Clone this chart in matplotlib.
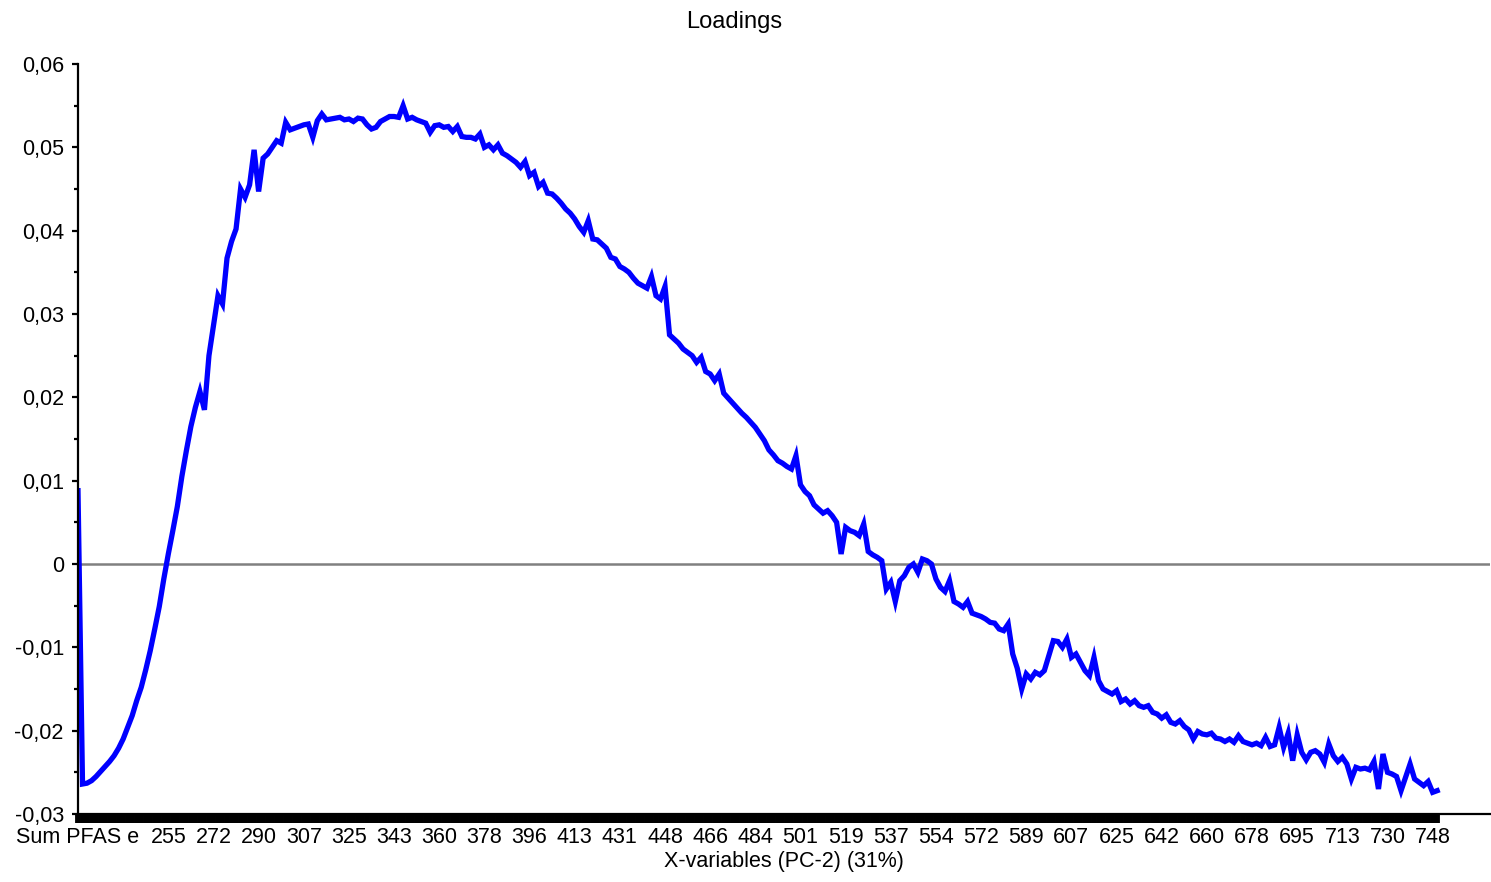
import matplotlib
matplotlib.use('Agg')
import matplotlib.pyplot as plt

plt.rcParams['font.family'] = ['Liberation Sans', 'DejaVu Sans']

# PC-2 loadings: first variable is the PFAS sum, the rest are the spectrum
loadings = [
    0.0088, -0.0264, -0.0263, -0.0260, -0.0255, -0.0249, -0.0243, -0.0237, -0.0230, -0.0221,
    -0.0210, -0.0196, -0.0182, -0.0164, -0.0148, -0.0127, -0.0104, -0.0078, -0.0051, -0.0018,
    0.0012, 0.0040, 0.0069, 0.0105, 0.0136, 0.0165, 0.0188, 0.0207, 0.0185, 0.0250,
    0.0286, 0.0322, 0.0312, 0.0367, 0.0387, 0.0402, 0.0450, 0.0440, 0.0455, 0.0497,
    0.0447, 0.0487, 0.0492, 0.0500, 0.0508, 0.0505, 0.0530, 0.0521, 0.0523, 0.0525,
    0.0527, 0.0528, 0.0512, 0.0532, 0.0540, 0.0533, 0.0534, 0.0535, 0.0536, 0.0533,
    0.0534, 0.0531, 0.0535, 0.0534, 0.0527, 0.0522, 0.0524, 0.0531, 0.0534, 0.0537,
    0.0537, 0.0536, 0.0550, 0.0534, 0.0536, 0.0533, 0.0531, 0.0529, 0.0518, 0.0526,
    0.0527, 0.0524, 0.0525, 0.0519, 0.0525, 0.0513, 0.0512, 0.0512, 0.0510, 0.0516,
    0.0500, 0.0503, 0.0497, 0.0503, 0.0493, 0.0490, 0.0486, 0.0482, 0.0476, 0.0483,
    0.0466, 0.0470, 0.0453, 0.0458, 0.0445, 0.0444, 0.0439, 0.0433, 0.0426, 0.0421,
    0.0414, 0.0405, 0.0398, 0.0412, 0.0390, 0.0389, 0.0384, 0.0379, 0.0368, 0.0366,
    0.0357, 0.0354, 0.0350, 0.0343, 0.0337, 0.0334, 0.0331, 0.0345, 0.0322, 0.0318,
    0.0333, 0.0275, 0.0270, 0.0265, 0.0258, 0.0254, 0.0250, 0.0242, 0.0248, 0.0231,
    0.0228, 0.0220, 0.0228, 0.0205, 0.0199, 0.0193, 0.0187, 0.0181, 0.0176, 0.0170,
    0.0164, 0.0156, 0.0148, 0.0137, 0.0131, 0.0124, 0.0121, 0.0117, 0.0114, 0.0130,
    0.0095, 0.0087, 0.0082, 0.0071, 0.0066, 0.0061, 0.0064, 0.0058, 0.0050, 0.0012,
    0.0044, 0.0040, 0.0038, 0.0034, 0.0048, 0.0015, 0.0011, 0.0008, 0.0004, -0.0030,
    -0.0022, -0.0045, -0.0020, -0.0014, -0.0004, 0.0000, -0.0010, 0.0006, 0.0004, 0.0000,
    -0.0018, -0.0028, -0.0033, -0.0020, -0.0045, -0.0048, -0.0052, -0.0045, -0.0059, -0.0061,
    -0.0063, -0.0066, -0.0070, -0.0071, -0.0078, -0.0080, -0.0072, -0.0108, -0.0125, -0.0150,
    -0.0132, -0.0138, -0.0130, -0.0133, -0.0128, -0.0110, -0.0092, -0.0093, -0.0100, -0.0090,
    -0.0112, -0.0108, -0.0118, -0.0128, -0.0134, -0.0112, -0.0140, -0.0150, -0.0153, -0.0156,
    -0.0152, -0.0165, -0.0162, -0.0168, -0.0164, -0.0170, -0.0172, -0.0170, -0.0178, -0.0180,
    -0.0185, -0.0181, -0.0190, -0.0192, -0.0188, -0.0195, -0.0199, -0.0210, -0.0201, -0.0204,
    -0.0205, -0.0203, -0.0209, -0.0210, -0.0213, -0.0210, -0.0214, -0.0206, -0.0213, -0.0215,
    -0.0217, -0.0215, -0.0218, -0.0208, -0.0219, -0.0217, -0.0196, -0.0220, -0.0203, -0.0236,
    -0.0205, -0.0226, -0.0235, -0.0226, -0.0224, -0.0228, -0.0238, -0.0216, -0.0230, -0.0237,
    -0.0232, -0.0240, -0.0258, -0.0244, -0.0246, -0.0245, -0.0247, -0.0237, -0.0270, -0.0228,
    -0.0250, -0.0252, -0.0255, -0.0272, -0.0256, -0.0240, -0.0258, -0.0262, -0.0266, -0.0261,
    -0.0274, -0.0272,
]

# labelled variables (index into loadings) and their names
label_pos = [0] + list(range(20, 301, 10))
label_names = ['Sum PFAS e', '255', '272', '290', '307', '325', '343', '360', '378',
               '396', '413', '431', '448', '466', '484', '501', '519', '537', '554',
               '572', '589', '607', '625', '642', '660', '678', '695', '713', '730', '748']

y_ticks = [-0.03, -0.02, -0.01, 0, 0.01, 0.02, 0.03, 0.04, 0.05, 0.06]
y_labels = ['-0,03', '-0,02', '-0,01', '0', '0,01', '0,02', '0,03', '0,04', '0,05', '0,06']

W, H = 1491, 882
fig = plt.figure(figsize=(W / 100, H / 100), dpi=100)
ax = fig.add_axes([78 / W, 1 - 814 / H, (1490 - 78) / W, (814 - 64) / H])

x = list(range(len(loadings)))
ax.axhline(0, color='#808080', lw=1.8, zorder=1)
ax.plot(x, loadings, color='#0000ff', lw=3.8, solid_joinstyle='miter', zorder=2)

ax.set_xlim(0, 312.7)
ax.set_ylim(-0.03, 0.06)

for s in ['top', 'right']:
    ax.spines[s].set_visible(False)
for s in ['left', 'bottom']:
    ax.spines[s].set_linewidth(1.6)

# one tick per variable, so the x axis turns into a solid bar
ax.set_xticks(x)
names = [''] * len(x)
for p, n in zip(label_pos, label_names):
    names[p] = n
ax.set_xticklabels(names, fontsize=15.5)
ax.tick_params(axis='x', length=6.5, width=4.2, pad=3)

ax.set_yticks(y_ticks)
ax.set_yticklabels(y_labels, fontsize=15.5)
ax.set_yticks([v + 0.005 for v in y_ticks[:-1]], minor=True)
ax.tick_params(axis='y', which='major', length=4.2, width=1.6, pad=6)
ax.tick_params(axis='y', which='minor', length=3, width=1.6)

ax.set_xlabel('X-variables (PC-2) (31%)', fontsize=15.5, labelpad=2)
fig.text(734 / W, 1 - 22 / H, 'Loadings', fontsize=17, ha='center', va='center')

fig.savefig('out.png', dpi=100)
